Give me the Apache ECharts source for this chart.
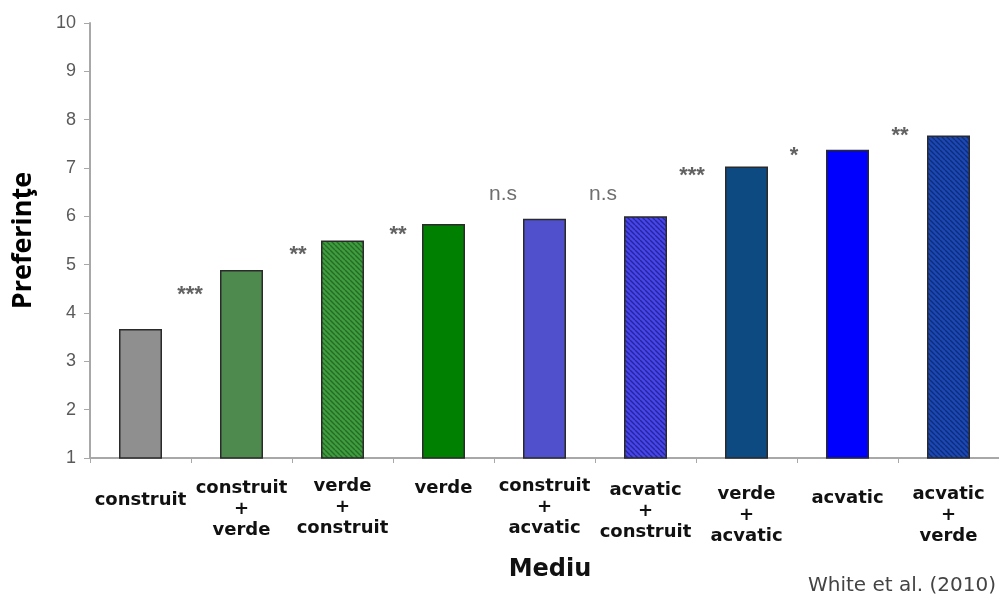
<!DOCTYPE html>
<html>
<head>
<meta charset="utf-8">
<script src="https://cdn.jsdelivr.net/npm/echarts@6/dist/echarts.min.js"></script>
<style>
  html, body { margin: 0; padding: 0; background: #ffffff; }
  #chart { width: 999px; height: 596px; }
</style>
</head>
<body>
<div id="chart"></div>
<script>
// Environment categories (x axis) and mean preference scores (y axis)
const categories = [
  'construit',
  'construit\n+\nverde',
  'verde\n+\nconstruit',
  'verde',
  'construit\n+\nacvatic',
  'acvatic\n+\nconstruit',
  'verde\n+\nacvatic',
  'acvatic',
  'acvatic\n+\nverde'
];
const preferences = [3.67, 4.89, 5.5, 5.84, 5.95, 6.0, 7.03, 7.38, 7.67];

// Significance of the difference between neighbouring bars
const sigMarks = ['***', '**', '**', 'n.s', 'n.s', '***', '*', '**'];
const sigHeights = [4.48, 5.31, 5.72, 6.45, 6.45, 6.94, 7.36, 7.77];

// Value axis range
const yMin = 1;
const yMax = 10;
const yStep = 1;

// Bar fills: solid colours, or a base colour with dark diagonal hatching
const barFills = [
  { base: '#8f8f8f' },
  { base: '#4e8a4e' },
  { base: '#3e9e3e', hatch: '#276a27' },
  { base: '#008000' },
  { base: '#5050cc' },
  { base: '#4646ec', hatch: '#26269a' },
  { base: '#0d4a82' },
  { base: '#0000ff' },
  { base: '#1c48b6', hatch: '#0e2d78' }
];

// Extra top padding for each category label block
const labelShift = [14, 2, 0, 2, 0, 4, 8, 12, 8];
// Horizontal nudge (px) of each significance mark off its category boundary
const sigNudge = [-1, 6, 5, 9, 8, -4, -3, 2];

function hatchPattern(base, stroke) {
  const s = 5;
  const c = document.createElement('canvas');
  c.width = s; c.height = s;
  const g = c.getContext('2d');
  g.fillStyle = base;
  g.fillRect(0, 0, s, s);
  g.strokeStyle = stroke;
  g.lineWidth = 1.4;
  g.beginPath();
  [-s, 0, s].forEach(function (o) {
    g.moveTo(o, 0);
    g.lineTo(o + s, s);
  });
  g.stroke();
  return { image: c, repeat: 'repeat' };
}

const barData = preferences.map(function (v, i) {
  const f = barFills[i];
  return {
    value: v,
    itemStyle: {
      color: f.hatch ? hatchPattern(f.base, f.hatch) : f.base,
      borderColor: '#2a2a2a',
      borderWidth: 1.5
    }
  };
});

const sigData = sigMarks.map(function (m, i) {
  const stars = m.indexOf('*') >= 0;
  return {
    value: [i + 1, sigHeights[i]],
    label: stars
      ? { fontSize: 22, color: '#3a3a3a', fontWeight: 'bold', offset: [sigNudge[i], 5] }
      : { fontSize: 21, color: '#4a4a4a', offset: [sigNudge[i], 0] }
  };
});

const chart = echarts.init(document.getElementById('chart'), null, { renderer: 'canvas' });

chart.setOption({
  backgroundColor: '#ffffff',
  animation: false,
  grid: { left: 90, top: 23, width: 913, height: 435 },
  xAxis: [
    {
      type: 'category',
      data: categories.map(function (c, i) {
        return { value: c, textStyle: { padding: [labelShift[i], 0, 0, 0] } };
      }),
      boundaryGap: true,
      axisLine: { show: true, lineStyle: { color: '#a8a8a8', width: 2 } },
      axisTick: { show: true, length: 5, lineStyle: { color: '#a8a8a8', width: 1 } },
      axisLabel: {
        interval: 0,
        margin: 18,
        color: '#111111',
        fontFamily: 'DejaVu Sans',
        fontWeight: 'bold',
        fontSize: 18,
        lineHeight: 21,
        align: 'center'
      },
      name: 'Mediu',
      nameLocation: 'middle',
      nameGap: 100,
      nameTextStyle: {
        color: '#111111',
        fontFamily: 'DejaVu Sans',
        fontWeight: 'bold',
        fontSize: 24,
        padding: [0, 0, 0, 11]
      }
    },
    {
      type: 'value',
      min: 0,
      max: 9,
      show: false
    }
  ],
  yAxis: {
    type: 'value',
    min: yMin,
    max: yMax,
    interval: yStep,
    axisLine: { show: true, lineStyle: { color: '#a8a8a8', width: 2 } },
    axisTick: { show: true, inside: false, length: 6, lineStyle: { color: '#a8a8a8', width: 1 } },
    splitLine: { show: false },
    axisLabel: {
      margin: 14,
      color: '#5a5a5a',
      fontFamily: 'Liberation Sans',
      fontSize: 18
    },
    name: 'Preferinţe',
    nameLocation: 'middle',
    nameRotate: 90,
    nameGap: 53,
    nameTextStyle: {
      color: '#000000',
      fontFamily: 'Open Sans',
      fontWeight: 'bold',
      fontSize: 27
    }
  },
  series: [
    {
      type: 'bar',
      xAxisIndex: 0,
      data: barData,
      barWidth: 43
    },
    {
      type: 'scatter',
      xAxisIndex: 1,
      symbolSize: 0,
      data: sigData,
      label: {
        show: true,
        position: 'inside',
        fontFamily: 'Liberation Sans',
        formatter: function (p) { return sigMarks[p.dataIndex]; }
      },
      silent: true
    }
  ],
  graphic: [
    {
      type: 'text',
      right: 3,
      top: 576,
      style: {
        text: 'White et al. (2010)',
        fill: '#444444',
        font: '20px "DejaVu Sans"'
      }
    }
  ]
});
</script>
</body>
</html>
